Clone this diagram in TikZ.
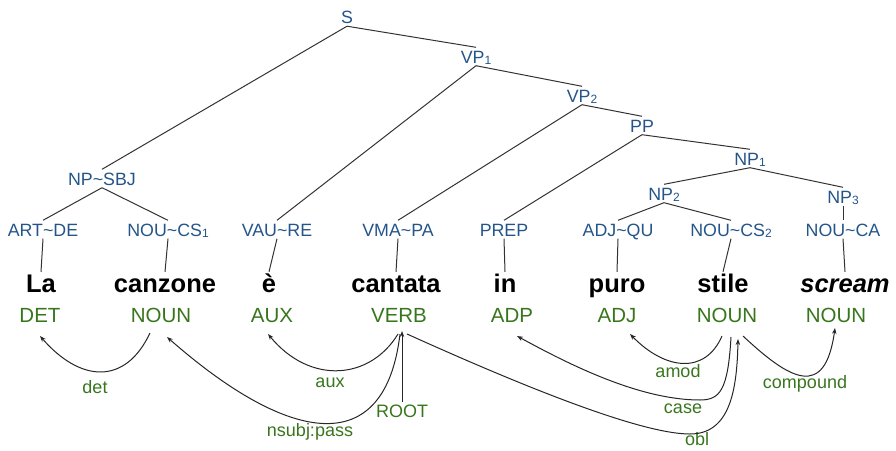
\documentclass[tikz,border=0pt]{standalone}
\usepackage{fontspec}
\setmainfont{Liberation Sans}
\usetikzlibrary{calc,arrows.meta}
\definecolor{tagblue}{HTML}{24558A}
\definecolor{posgreen}{HTML}{38761D}
\newcommand{\sbx}[1]{\raisebox{-1pt}{\fontsize{12}{12}\selectfont #1}}
\begin{document}
\begin{tikzpicture}[x=1pt,y=-1pt,
  cat/.style={anchor=base, inner xsep=1pt, inner ysep=2.5pt, text height=13pt, text depth=0pt, text=tagblue, font=\fontsize{17.8}{20}\selectfont},
  word/.style={anchor=base, inner sep=2pt, text height=18pt, text depth=0pt, font=\fontsize{25.5}{28}\selectfont\bfseries},
  postag/.style={anchor=base, inner sep=0pt, outer sep=0pt, text height=15pt, text depth=0pt, text=posgreen, font=\fontsize{20.5}{22}\selectfont},
  dep/.style={anchor=base, inner sep=0pt, text=posgreen, font=\fontsize{18}{20}\selectfont},
  branch/.style={draw=black!80, line width=1pt},
  arc/.style={draw=black!85, line width=1pt, -{Stealth[length=6pt,width=4.5pt]}},
]
\useasboundingbox (0,0) rectangle (896,450);

% phrase nodes
\node[cat] (S)   at (347,23.5) {S};
\node[cat] (VP1) at (476,63)   {VP\sbx{1}};
\node[cat] (VP2) at (582,102)  {VP\sbx{2}};
\node[cat] (PP)  at (642,132)  {PP};
\node[cat] (NP1) at (750,165)  {NP\sbx{1}};
\node[cat] (NP2) at (664,200)  {NP\sbx{2}};
\node[cat] (NP3) at (843,203)  {NP\sbx{3}};
\node[cat] (NPS) at (102,185)  {NP\textasciitilde SBJ};

% tags
\node[cat] (tART)  at (43,236)  {ART\textasciitilde DE};
\node[cat] (tNOU1) at (168,236) {NOU\textasciitilde CS\sbx{1}};
\node[cat] (tVAU)  at (277,236) {VAU\textasciitilde RE};
\node[cat] (tVMA)  at (398,236) {VMA\textasciitilde PA};
\node[cat] (tPREP) at (504,236) {PREP};
\node[cat] (tADJ)  at (618,236) {ADJ\textasciitilde QU};
\node[cat] (tNOU2) at (731,236) {NOU\textasciitilde CS\sbx{2}};
\node[cat] (tNOUC) at (843,236) {NOU\textasciitilde CA};

% words
\node[word] (wLa)  at (41,292)  {La};
\node[word] (wCan) at (165,292) {canzone};
\node[word] (wE)   at (269,292) {è};
\node[word] (wCt)  at (396,292) {cantata};
\node[word] (wIn)  at (505,292) {in};
\node[word] (wPu)  at (617,292) {puro};
\node[word] (wSt)  at (723,292) {stile};
\node[word] (wSc)  at (845,292) {\itshape scream};

% POS
\node[postag] (DET)   at (40,322)  {DET};
\node[postag] (NOUNa) at (161,322) {NOUN};
\node[postag] (AUX)   at (272,322) {AUX};
\node[postag] (VERB)  at (399,322) {VERB};
\node[postag] (ADP)   at (512,322) {ADP};
\node[postag] (ADJ)   at (617,322) {ADJ};
\node[postag] (NOUNb) at (727,322) {NOUN};
\node[postag] (NOUNc) at (836,322) {NOUN};

% tree branches
\draw[branch] (S.south) -- (NPS.north);
\draw[branch] (S.south) -- (VP1.north);
\draw[branch] (VP1.south) -- (tVAU.north);
\draw[branch] (VP1.south) -- (VP2.north);
\draw[branch] (VP2.south) -- (tVMA.north);
\draw[branch] (VP2.south) -- (PP.north);
\draw[branch] (PP.south) -- (tPREP.north);
\draw[branch] (PP.south) -- (NP1.north);
\draw[branch] (NP1.south) -- (NP2.north);
\draw[branch] (NP1.south) -- (NP3.north);
\draw[branch] (NP2.south) -- (tADJ.north);
\draw[branch] (NP2.south) -- (tNOU2.north);
\draw[branch] (NP3.south) -- (tNOUC.north);
\draw[branch] (NPS.south) -- (tART.north);
\draw[branch] (NPS.south) -- (tNOU1.north);

\draw[branch] (tART.south)  -- (wLa.north);
\draw[branch] (tNOU1.south) -- (wCan.north);
\draw[branch] (tVAU.south)  -- (wE.north);
\draw[branch] (tVMA.south)  -- (wCt.north);
\draw[branch] (tPREP.south) -- (wIn.north);
\draw[branch] (tADJ.south)  -- (wPu.north);
\draw[branch] (tNOU2.south) -- (wSt.north);
\draw[branch] (tNOUC.south) -- (wSc.north);

% dependency labels
\node[dep] (Ldet)  at (95,393)  {det};
\node[dep] (Laux)  at (330,387) {aux};
\node[dep] (Lnsub) at (310,436) {nsubj:pass};
\node[dep, inner ysep=2pt] (LROOT) at (402,417) {ROOT};
\node[dep] (Lamod) at (678,377) {amod};
\node[dep] (Lcase) at (683,413) {case};
\node[dep] (Lobl)  at (697,445) {obl};
\node[dep] (Lcomp) at (805,388) {compound};

% dependency arcs
\draw[arc] ($(NOUNa.south)+(-11,11)$) .. controls (125,386) and (80,382) .. ($(DET.south)+(0,14)$);
\draw[arc] ($(VERB.south)+(1,12)$) .. controls (385,460) and (290,445) .. ($(NOUNa.south)+(6,15)$);
\draw[arc] ($(VERB.south)+(-1,12)$) .. controls (370,380) and (310,385) .. ($(AUX.south)+(-4,12)$);
\draw[arc] (LROOT.north) -- ($(VERB.south)+(3,9)$);
\draw[arc] ($(VERB.south)+(8,12)$) .. controls (520,385) and (640,434) .. (690,434) .. controls (730,434) and (737,390) .. ($(NOUNb.south)+(11,17)$);
\draw[arc] ($(NOUNb.south)+(4,15)$) .. controls (728,390) and (720,400) .. (700,400) .. controls (640,400) and (570,365) .. ($(ADP.south)+(5,14)$);
\draw[arc] ($(NOUNb.south)+(-5,14)$) .. controls (705,375) and (665,370) .. ($(ADJ.south)+(13,12)$);
\draw[arc] ($(NOUNb.south)+(16,14)$) .. controls (790,380) and (825,400) .. ($(NOUNc.south)+(-1,6)$);
\end{tikzpicture}
\end{document}
